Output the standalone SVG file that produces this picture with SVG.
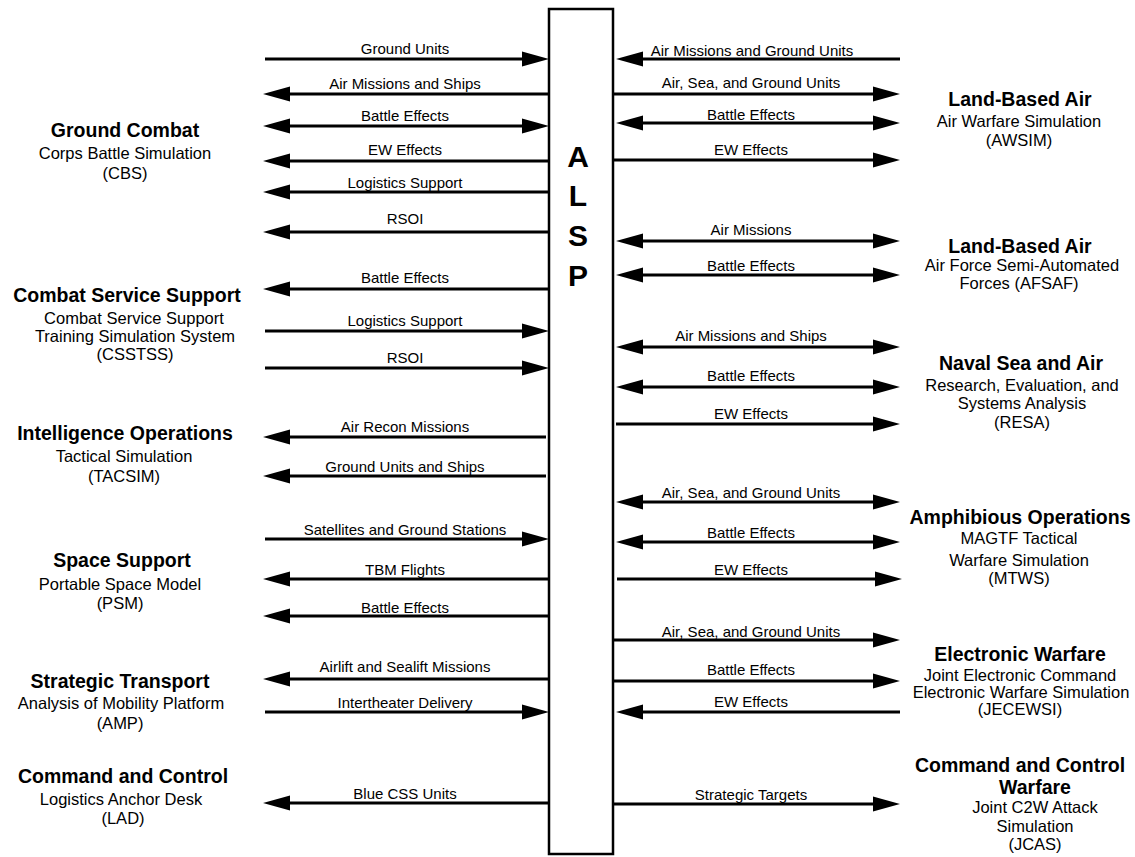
<svg xmlns="http://www.w3.org/2000/svg" width="1135" height="857" viewBox="0 0 1135 857">
<style>
text{font-family:"Liberation Sans",Arial,sans-serif;fill:#000;text-anchor:middle}
.t{font-size:19.5px;font-weight:bold}
.s{font-size:16.5px}
.lbl{font-size:15px}
.big{font-size:30px;font-weight:bold}
.c line{stroke:#000;stroke-width:3;fill:none}
.c .r{marker-end:url(#ah)}
.c .l{marker-start:url(#ah)}
.c .b{marker-start:url(#ah);marker-end:url(#ah)}
</style>
<defs>
<marker id="ah" markerUnits="userSpaceOnUse" markerWidth="28" markerHeight="16" viewBox="0 0 28 16" refX="15" refY="8" orient="auto-start-reverse">
<path d="M0,0.5 L27,8 L0,15.5 z" fill="#000"/>
</marker>
</defs>
<rect width="1135" height="857" fill="#fff"/>
<g id="alsp">
<rect x="549" y="9" width="64" height="845" fill="#fff" stroke="#000" stroke-width="2.5"/>
<text class="big" x="578" y="167">A</text>
<text class="big" x="578" y="206">L</text>
<text class="big" x="578" y="246">S</text>
<text class="big" x="578" y="286">P</text>
</g>
<g id="connectors" class="c">
<line class="r" x1="265" y1="59" x2="537" y2="59"/>
<line class="l" x1="275" y1="94" x2="549" y2="94"/>
<line class="b" x1="275" y1="126" x2="537" y2="126"/>
<line class="l" x1="275" y1="161" x2="549" y2="161"/>
<line class="l" x1="275" y1="192" x2="549" y2="192"/>
<line class="l" x1="275" y1="232" x2="549" y2="232"/>
<line class="l" x1="275" y1="289" x2="549" y2="289"/>
<line class="r" x1="265" y1="331" x2="537" y2="331"/>
<line class="r" x1="265" y1="368" x2="537" y2="368"/>
<line class="l" x1="275" y1="437" x2="546" y2="437"/>
<line class="l" x1="275" y1="476" x2="546" y2="476"/>
<line class="r" x1="265" y1="539" x2="537" y2="539"/>
<line class="l" x1="275" y1="579" x2="549" y2="579"/>
<line class="l" x1="275" y1="616" x2="549" y2="616"/>
<line class="l" x1="275" y1="679" x2="549" y2="679"/>
<line class="r" x1="265" y1="712" x2="537" y2="712"/>
<line class="l" x1="275" y1="803" x2="549" y2="803"/>
<line class="l" x1="628" y1="59" x2="900" y2="59"/>
<line class="r" x1="613" y1="94" x2="888" y2="94"/>
<line class="b" x1="628" y1="123" x2="888" y2="123"/>
<line class="r" x1="613" y1="160" x2="888" y2="160"/>
<line class="b" x1="628" y1="241" x2="888" y2="241"/>
<line class="b" x1="628" y1="275" x2="888" y2="275"/>
<line class="b" x1="628" y1="347" x2="888" y2="347"/>
<line class="b" x1="628" y1="387" x2="888" y2="387"/>
<line class="r" x1="616" y1="424" x2="888" y2="424"/>
<line class="b" x1="628" y1="502" x2="888" y2="502"/>
<line class="b" x1="628" y1="542" x2="888" y2="542"/>
<line class="r" x1="617" y1="579" x2="890" y2="579"/>
<line class="r" x1="613" y1="640" x2="888" y2="640"/>
<line class="r" x1="613" y1="681" x2="888" y2="681"/>
<line class="l" x1="628" y1="712" x2="900" y2="712"/>
<line class="r" x1="613" y1="804" x2="888" y2="804"/>
</g>
<g id="connector-labels" class="lbl">
<text class="lbl" x="405" y="53.5">Ground Units</text>
<text class="lbl" x="405" y="88.5">Air Missions and Ships</text>
<text class="lbl" x="405" y="120.5">Battle Effects</text>
<text class="lbl" x="405" y="154.5">EW Effects</text>
<text class="lbl" x="405" y="187.5">Logistics Support</text>
<text class="lbl" x="405" y="224">RSOI</text>
<text class="lbl" x="405" y="282.5">Battle Effects</text>
<text class="lbl" x="405" y="325.5">Logistics Support</text>
<text class="lbl" x="405" y="362.5">RSOI</text>
<text class="lbl" x="405" y="431.5">Air Recon Missions</text>
<text class="lbl" x="405" y="471.5">Ground Units and Ships</text>
<text class="lbl" x="405" y="534.5">Satellites and Ground Stations</text>
<text class="lbl" x="405" y="574.5">TBM Flights</text>
<text class="lbl" x="405" y="613">Battle Effects</text>
<text class="lbl" x="405" y="671.5">Airlift and Sealift Missions</text>
<text class="lbl" x="405" y="708">Intertheater Delivery</text>
<text class="lbl" x="405" y="799">Blue CSS Units</text>
<text class="lbl" x="752" y="55.5">Air Missions and Ground Units</text>
<text class="lbl" x="751" y="88">Air, Sea, and Ground Units</text>
<text class="lbl" x="751" y="119.5">Battle Effects</text>
<text class="lbl" x="751" y="154.5">EW Effects</text>
<text class="lbl" x="751" y="234.5">Air Missions</text>
<text class="lbl" x="751" y="271">Battle Effects</text>
<text class="lbl" x="751" y="341">Air Missions and Ships</text>
<text class="lbl" x="751" y="380.5">Battle Effects</text>
<text class="lbl" x="751" y="418.5">EW Effects</text>
<text class="lbl" x="751" y="498">Air, Sea, and Ground Units</text>
<text class="lbl" x="751" y="538">Battle Effects</text>
<text class="lbl" x="751" y="575">EW Effects</text>
<text class="lbl" x="751" y="636.5">Air, Sea, and Ground Units</text>
<text class="lbl" x="751" y="674.5">Battle Effects</text>
<text class="lbl" x="751" y="707">EW Effects</text>
<text class="lbl" x="751" y="799.5">Strategic Targets</text>
</g>
<g id="cbs">
<text class="t" x="125" y="137">Ground Combat</text>
<text class="s" x="125" y="159">Corps Battle Simulation</text>
<text class="s" x="125" y="179">(CBS)</text>
</g>
<g id="csstss">
<text class="t" x="127" y="302">Combat Service Support</text>
<text class="s" x="134" y="324">Combat Service Support</text>
<text class="s" x="135" y="342">Training Simulation System</text>
<text class="s" x="135" y="360">(CSSTSS)</text>
</g>
<g id="tacsim">
<text class="t" x="125" y="440">Intelligence Operations</text>
<text class="s" x="124" y="462">Tactical Simulation</text>
<text class="s" x="124" y="482">(TACSIM)</text>
</g>
<g id="psm">
<text class="t" x="122" y="567">Space Support</text>
<text class="s" x="120" y="590">Portable Space Model</text>
<text class="s" x="120" y="609">(PSM)</text>
</g>
<g id="amp">
<text class="t" x="120" y="688">Strategic Transport</text>
<text class="s" x="121" y="709">Analysis of Mobility Platform</text>
<text class="s" x="120" y="729">(AMP)</text>
</g>
<g id="lad">
<text class="t" x="123" y="783">Command and Control</text>
<text class="s" x="121" y="805">Logistics Anchor Desk</text>
<text class="s" x="123" y="824">(LAD)</text>
</g>
<g id="awsim">
<text class="t" x="1020" y="106">Land-Based Air</text>
<text class="s" x="1019" y="127">Air Warfare Simulation</text>
<text class="s" x="1019" y="146">(AWSIM)</text>
</g>
<g id="afsaf">
<text class="t" x="1020" y="253">Land-Based Air</text>
<text class="s" x="1022" y="271">Air Force Semi-Automated</text>
<text class="s" x="1019" y="289">Forces (AFSAF)</text>
</g>
<g id="resa">
<text class="t" x="1021" y="370">Naval Sea and Air</text>
<text class="s" x="1022" y="391">Research, Evaluation, and</text>
<text class="s" x="1022" y="409">Systems Analysis</text>
<text class="s" x="1022" y="428">(RESA)</text>
</g>
<g id="mtws">
<text class="t" x="1020" y="524">Amphibious Operations</text>
<text class="s" x="1019" y="544">MAGTF Tactical</text>
<text class="s" x="1019" y="566">Warfare Simulation</text>
<text class="s" x="1019" y="584">(MTWS)</text>
</g>
<g id="jecewsi">
<text class="t" x="1020" y="661">Electronic Warfare</text>
<text class="s" x="1020" y="681">Joint Electronic Command</text>
<text class="s" x="1021" y="698">Electronic Warfare Simulation</text>
<text class="s" x="1020" y="715">(JECEWSI)</text>
</g>
<g id="jcas">
<text class="t" x="1020" y="772">Command and Control</text>
<text class="t" x="1035" y="794">Warfare</text>
<text class="s" x="1035" y="813">Joint C2W Attack</text>
<text class="s" x="1035" y="832">Simulation</text>
<text class="s" x="1035" y="850">(JCAS)</text>
</g>
</svg>
